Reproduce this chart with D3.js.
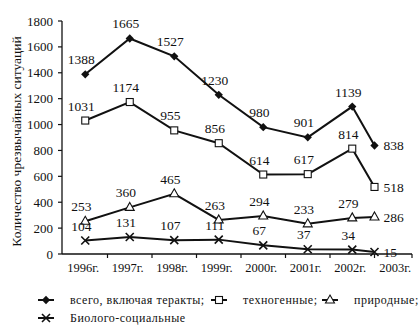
<!DOCTYPE html>
<html>
<head>
<meta charset="utf-8">
<script src="https://cdn.jsdelivr.net/npm/d3@7"></script>
<style>
  html, body { margin: 0; padding: 0; background: #fff; }
</style>
</head>
<body>
<svg id="chart" width="418" height="327"></svg>
<script>
// Годы наблюдения
const years = ["1996г.", "1997г.", "1998г.", "1999г.", "2000г.", "2001г.", "2002г.", "2003г."];

// Количество чрезвычайных ситуаций по видам
const totalIncl = [1388, 1665, 1527, 1230, 980, 901, 1139, 838];
const technogenic = [1031, 1174, 955, 856, 614, 617, 814, 518];
const natural = [253, 360, 465, 263, 294, 233, 279, 286];
const bioSocial = [104, 131, 107, 111, 67, 37, 34, 15];

const seriesNames = ["всего, включая теракты;", "техногенные;", "природные;", "Биолого-социальные"];
const yTicks = [0, 200, 400, 600, 800, 1000, 1200, 1400, 1600, 1800];
const yTitle = "Количество чрезвычайных ситуаций";

const series = [
  { name: seriesNames[0], values: totalIncl, marker: "diamond" },
  { name: seriesNames[1], values: technogenic, marker: "square" },
  { name: seriesNames[2], values: natural, marker: "triangle" },
  { name: seriesNames[3], values: bioSocial, marker: "cross" }
];

const svg = d3.select("#chart");
const ink = "#111";
const serif = "'Liberation Serif'";

const axisLeft = 62, axisRight = 412, axisBottom = 254, axisTop = 21;

const x = d3.scaleBand().domain(years).range([63, 419]).paddingInner(0).paddingOuter(0);
const bw = x.bandwidth();
const y = d3.scaleLinear().domain([0, 1800]).range([axisBottom, axisTop]);

const last = years.length - 1;
// последняя точка ряда стоит на левой границе своего интервала
const px = (i) => i === last ? x(years[i]) : x(years[i]) + bw / 2;

// Ось Y
const gy = svg.append("g");
gy.append("line").attr("x1", axisLeft).attr("x2", axisLeft)
  .attr("y1", y(1800)).attr("y2", axisBottom)
  .attr("stroke", ink).attr("stroke-width", 1.3);
gy.selectAll("line.tick").data(yTicks).join("line").attr("class", "tick")
  .attr("x1", axisLeft - 4).attr("x2", axisLeft)
  .attr("y1", d => y(d)).attr("y2", d => y(d))
  .attr("stroke", ink).attr("stroke-width", 1.2);
gy.selectAll("text").data(yTicks).join("text")
  .attr("x", axisLeft - 9).attr("y", d => y(d)).attr("dy", "0.35em")
  .attr("text-anchor", "end").attr("fill", ink)
  .style("font-family", serif).style("font-size", "13px")
  .text(d => d);

// Подпись оси Y
svg.append("text")
  .attr("transform", `translate(16, ${(y(1800) + axisBottom) / 2 + 4}) rotate(-90)`)
  .attr("text-anchor", "middle").attr("dy", "0.35em").attr("fill", ink)
  .style("font-family", serif).style("font-size", "13.5px")
  .text(yTitle);

// Ось X
const gx = svg.append("g");
gx.append("line").attr("x1", axisLeft).attr("x2", axisRight)
  .attr("y1", axisBottom).attr("y2", axisBottom)
  .attr("stroke", ink).attr("stroke-width", 1.3);
const xTickPos = years.slice(1).map(d => x(d)).concat([axisRight]);
gx.selectAll("line.tick").data(xTickPos).join("line").attr("class", "tick")
  .attr("x1", d => d).attr("x2", d => d)
  .attr("y1", axisBottom).attr("y2", axisBottom + 4)
  .attr("stroke", ink).attr("stroke-width", 1.2);
gx.selectAll("text").data(years).join("text")
  .attr("x", (d, i) => i === last ? (x(d) + axisRight) / 2 + 2 : x(d) + bw / 2 - 2)
  .attr("y", 272)
  .attr("text-anchor", "middle").attr("fill", ink)
  .style("font-family", serif).style("font-size", "12.5px")
  .text(d => d);

// Маркеры
function drawMarker(g, type, cx, cy) {
  if (type === "diamond") {
    g.append("path").attr("d", d3.symbol(d3.symbolDiamond2, 44)())
      .attr("transform", `translate(${cx},${cy})`).attr("fill", ink);
  } else if (type === "square") {
    g.append("rect").attr("x", cx - 3.5).attr("y", cy - 3.5)
      .attr("width", 7).attr("height", 7)
      .attr("fill", "#fff").attr("stroke", ink).attr("stroke-width", 1.1);
  } else if (type === "triangle") {
    g.append("path").attr("d", `M${cx},${cy - 5}L${cx + 4.5},${cy + 3}L${cx - 4.5},${cy + 3}Z`)
      .attr("fill", "#fff").attr("stroke", ink).attr("stroke-width", 1.1);
  } else {
    g.append("path").attr("d", `M${cx - 4},${cy - 4}L${cx + 4},${cy + 4}M${cx - 4},${cy + 4}L${cx + 4},${cy - 4}`)
      .attr("stroke", ink).attr("stroke-width", 1.6);
  }
}

const line = d3.line().x((d, i) => px(i)).y(d => y(d));

series.forEach(s => {
  const g = svg.append("g");
  g.append("path").datum(s.values).attr("d", line)
    .attr("fill", "none").attr("stroke", ink).attr("stroke-width", 2);
  s.values.forEach((v, i) => drawMarker(g, s.marker, px(i), y(v)));
  g.selectAll("text").data(s.values).join("text")
    .attr("x", (d, i) => i === last ? px(i) + 9 : px(i) - 4)
    .attr("y", (d, i) => i === last ? y(d) : y(d) - 10)
    .attr("dy", (d, i) => i === last ? "0.35em" : 0)
    .attr("text-anchor", (d, i) => i === last ? "start" : "middle")
    .attr("fill", ink)
    .style("font-family", serif).style("font-size", "13.5px")
    .text(d => d);
});

// Легенда
const legendItems = [
  { s: series[0], tx: 70, ty: 300 },
  { s: series[1], tx: 243, ty: 300 },
  { s: series[2], tx: 354, ty: 300 },
  { s: series[3], tx: 70, ty: 318 }
];
const lg = svg.append("g");
legendItems.forEach(it => {
  lg.append("line").attr("x1", it.tx - 32).attr("x2", it.tx - 16)
    .attr("y1", it.ty).attr("y2", it.ty)
    .attr("stroke", ink).attr("stroke-width", 2);
  drawMarker(lg, it.s.marker, it.tx - 24, it.ty);
  lg.append("text").attr("x", it.tx).attr("y", it.ty).attr("dy", "0.35em")
    .attr("fill", ink).attr("letter-spacing", 0.5)
    .style("font-family", serif).style("font-size", "12px")
    .text(it.s.name);
});
</script>
</body>
</html>
